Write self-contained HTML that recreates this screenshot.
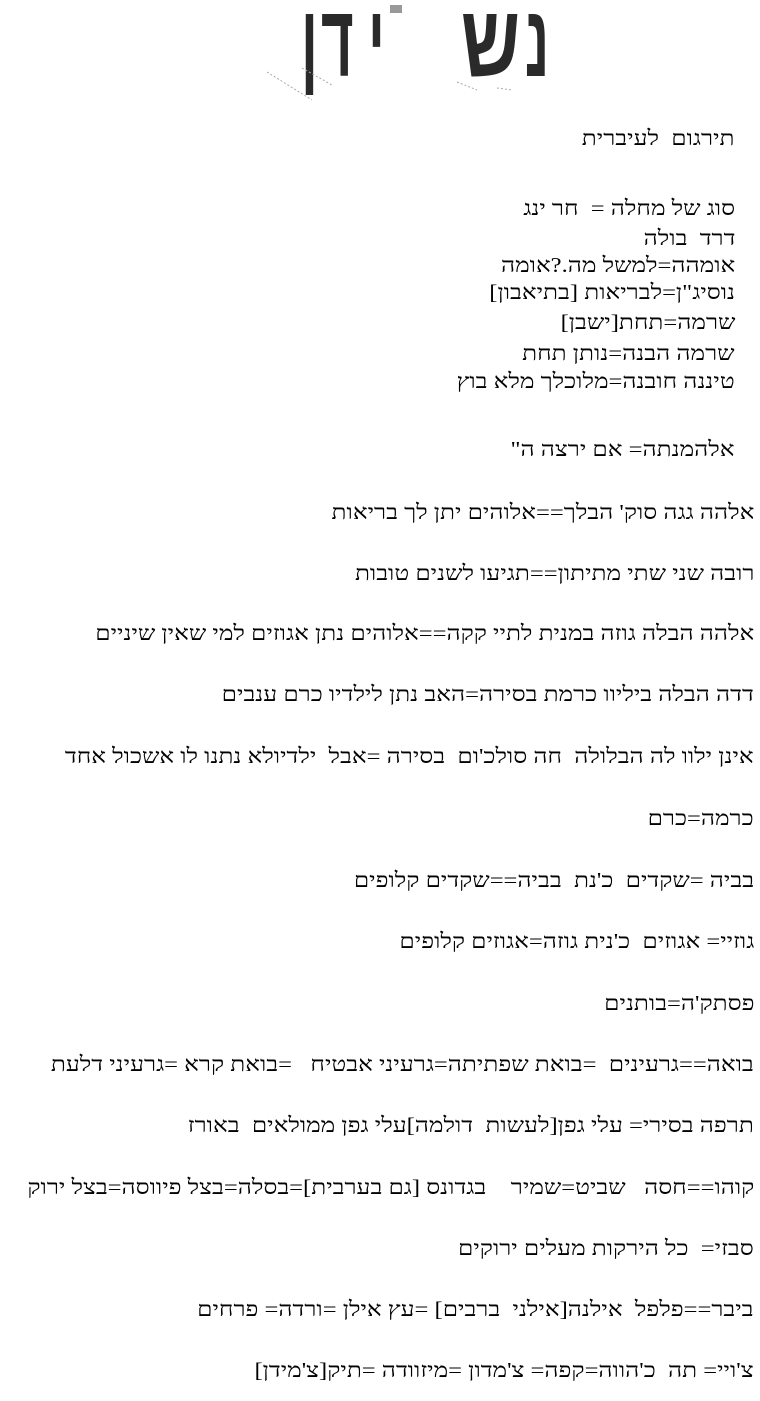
<!DOCTYPE html>
<html><head><meta charset="utf-8"><style>
html,body{margin:0;padding:0;background:#fff;}
body{width:760px;height:1401px;position:relative;overflow:hidden;}
.l{position:absolute;direction:rtl;text-align:right;white-space:pre;font-family:"Liberation Serif","DejaVu Serif","DejaVu Sans",serif;font-size:21px;line-height:26px;height:26px;color:#000;transform:scaleX(1.17);transform-origin:right center;}
.a{right:25px;}
.b{right:6px;}
.t{position:absolute;top:-19px;font-family:"Liberation Sans","DejaVu Sans",sans-serif;font-weight:bold;font-size:102px;line-height:120px;color:#2a2a2a;transform:scaleX(0.55);transform-origin:left top;white-space:nowrap;}
</style></head><body>
<div class="t" style="left:525px">נ</div>
<div class="t" style="left:461px;transform:scaleX(0.72)">ש</div>
<div class="t" style="left:368px">י</div>
<div class="t" style="left:321px">ד</div>
<div class="t" style="left:301px">ן</div>
<div style="position:absolute;left:390px;top:5px;width:12px;height:8px;background:#999"></div>
<svg style="position:absolute;left:262px;top:60px" width="260" height="50"><g stroke="#aaa" stroke-width="1" stroke-dasharray="2,2"><line x1="5" y1="12" x2="50" y2="40"/><line x1="40" y1="8" x2="70" y2="25"/><line x1="195" y1="22" x2="215" y2="30"/><line x1="235" y1="28" x2="250" y2="30"/></g></svg>
<div class="l a" style="top:125px">תירגום  לעיברית</div>
<div class="l a" style="top:195px">סוג של מחלה =  חר ינג</div>
<div class="l a" style="top:225px">דרד  בולה</div>
<div class="l a" style="top:252px">אומהה=למשל מה.?אומה</div>
<div class="l a" style="top:279px">נוסיג"ן=לבריאות [בתיאבון]</div>
<div class="l a" style="top:309px">שרמה=תחת[ישבן]</div>
<div class="l a" style="top:340px">שרמה הבנה=נותן תחת</div>
<div class="l a" style="top:368px">טיננה חובנה=מלוכלך מלא בוץ</div>
<div class="l a" style="top:436px">אלהמנתה= אם ירצה ה"</div>
<div class="l b" style="top:499px">אלהה גגה סוק' הבלך==אלוהים יתן לך בריאות</div>
<div class="l b" style="top:560px">רובה שני שתי מתיתון==תגיעו לשנים טובות</div>
<div class="l b" style="top:620px">אלהה הבלה גוזה במנית לתיי קקה==אלוהים נתן אגוזים למי שאין שיניים</div>
<div class="l b" style="top:681px">דדה הבלה ביליוו כרמת בסירה=האב נתן לילדיו כרם ענבים</div>
<div class="l b" style="top:743px">אינן ילוו לה הבלולה  חה סולכ'ום  בסירה =אבל  ילדיולא נתנו לו אשכול אחד</div>
<div class="l b" style="top:805px">כרמה=כרם</div>
<div class="l b" style="top:867px">בביה =שקדים  כ'נת  בביה==שקדים קלופים</div>
<div class="l b" style="top:928px">גוזיי= אגוזים  כ'נית גוזה=אגוזים קלופים</div>
<div class="l b" style="top:990px">פסתק'ה=בותנים</div>
<div class="l b" style="top:1051px">בואה==גרעינים  =בואת שפתיתה=גרעיני אבטיח   =בואת קרא =גרעיני דלעת</div>
<div class="l b" style="top:1112px">תרפה בסירי= עלי גפן[לעשות  דולמה]עלי גפן ממולאים  באורז</div>
<div class="l b" style="top:1174px">קוהו==חסה   שביט=שמיר    בגדונס [גם בערבית]=בסלה=בצל פיווסה=בצל ירוק</div>
<div class="l b" style="top:1235px">סבזי=  כל הירקות מעלים ירוקים</div>
<div class="l b" style="top:1296px">ביבר==פלפל  אילנה[אילני  ברבים] =עץ אילן =ורדה= פרחים</div>
<div class="l b" style="top:1357px">צ'ויי= תה  כ'הווה=קפה= צ'מדון =מיזוודה =תיק[צ'מידן]</div>
</body></html>
